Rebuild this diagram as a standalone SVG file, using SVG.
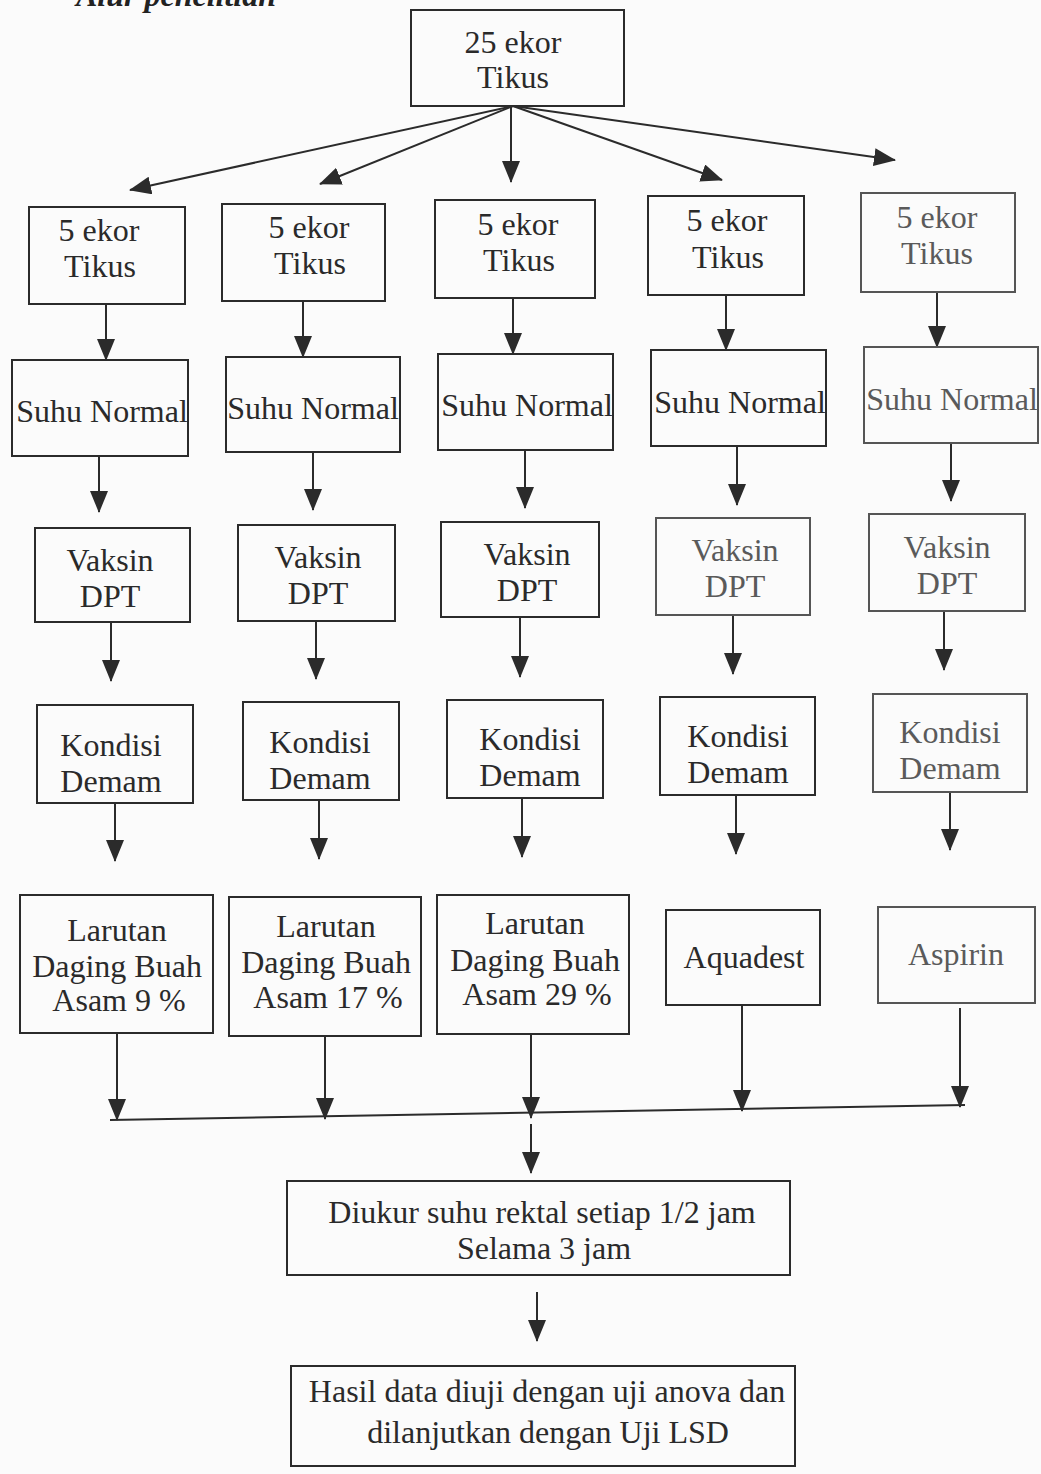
<svg xmlns="http://www.w3.org/2000/svg" width="1041" height="1474" viewBox="0 0 1041 1474">
<style>
.bg{fill:#fbfbfb}
.box{fill:none;stroke:#2b2b2b;stroke-width:2}
.box.light{stroke:#555}
.t{font-family:"Liberation Serif","Times New Roman",serif;font-size:32px;fill:#2a2a2a;text-anchor:middle}
.t.light{fill:#5a5a5a}
.hdr{font-family:"Liberation Serif","Times New Roman",serif;font-size:32px;font-weight:bold;font-style:italic;fill:#222}
.c line{stroke:#2b2b2b;stroke-width:2;fill:none}
</style>
<defs>
<marker id="ah" markerUnits="userSpaceOnUse" markerWidth="22" markerHeight="18" viewBox="0 0 22 18" refX="21" refY="9" orient="auto">
<path d="M0,0 L22,9 L0,18 z" fill="#2b2b2b"/>
</marker>
</defs>
<rect class="bg" x="0" y="0" width="1041" height="1474"/>
<text class="hdr" x="76" y="6">Alur penelitian</text>

<g id="connectors" class="c">
<line x1="513" y1="106" x2="130" y2="190" marker-end="url(#ah)"/>
<line x1="513" y1="106" x2="320" y2="184" marker-end="url(#ah)"/>
<line x1="511" y1="106" x2="511" y2="182" marker-end="url(#ah)"/>
<line x1="513" y1="106" x2="722" y2="180" marker-end="url(#ah)"/>
<line x1="513" y1="106" x2="895" y2="160" marker-end="url(#ah)"/>

<line x1="106" y1="304" x2="106" y2="360" marker-end="url(#ah)"/>
<line x1="303" y1="301" x2="303" y2="357" marker-end="url(#ah)"/>
<line x1="513" y1="298" x2="513" y2="354" marker-end="url(#ah)"/>
<line x1="726" y1="295" x2="726" y2="350" marker-end="url(#ah)"/>
<line x1="937" y1="292" x2="937" y2="347" marker-end="url(#ah)"/>

<line x1="99" y1="456" x2="99" y2="512" marker-end="url(#ah)"/>
<line x1="313" y1="452" x2="313" y2="510" marker-end="url(#ah)"/>
<line x1="525" y1="450" x2="525" y2="508" marker-end="url(#ah)"/>
<line x1="737" y1="446" x2="737" y2="505" marker-end="url(#ah)"/>
<line x1="951" y1="443" x2="951" y2="501" marker-end="url(#ah)"/>

<line x1="111" y1="622" x2="111" y2="681" marker-end="url(#ah)"/>
<line x1="316" y1="621" x2="316" y2="679" marker-end="url(#ah)"/>
<line x1="520" y1="617" x2="520" y2="677" marker-end="url(#ah)"/>
<line x1="733" y1="615" x2="733" y2="674" marker-end="url(#ah)"/>
<line x1="944" y1="611" x2="944" y2="670" marker-end="url(#ah)"/>

<line x1="115" y1="803" x2="115" y2="861" marker-end="url(#ah)"/>
<line x1="319" y1="800" x2="319" y2="859" marker-end="url(#ah)"/>
<line x1="522" y1="798" x2="522" y2="857" marker-end="url(#ah)"/>
<line x1="736" y1="795" x2="736" y2="854" marker-end="url(#ah)"/>
<line x1="950" y1="792" x2="950" y2="850" marker-end="url(#ah)"/>

<line x1="117" y1="1033" x2="117" y2="1120" marker-end="url(#ah)"/>
<line x1="325" y1="1036" x2="325" y2="1119" marker-end="url(#ah)"/>
<line x1="531" y1="1034" x2="531" y2="1118" marker-end="url(#ah)"/>
<line x1="742" y1="1005" x2="742" y2="1111" marker-end="url(#ah)"/>
<line x1="960" y1="1008" x2="960" y2="1107" marker-end="url(#ah)"/>
<line x1="110" y1="1120" x2="965" y2="1105"/>

<line x1="531" y1="1124" x2="531" y2="1173" marker-end="url(#ah)"/>
<line x1="537" y1="1292" x2="537" y2="1341" marker-end="url(#ah)"/>
</g>

<g id="n-top">
<rect class="box" x="411" y="10" width="213" height="96"/>
<text class="t" x="513" y="53">25 ekor</text>
<text class="t" x="513" y="88">Tikus</text>
</g>

<g id="n-tikus1"><rect class="box" x="29" y="207" width="156" height="97"/>
<text class="t" x="99" y="241">5 ekor</text><text class="t" x="100" y="277">Tikus</text></g>
<g id="n-tikus2"><rect class="box" x="222" y="204" width="163" height="97"/>
<text class="t" x="309" y="238">5 ekor</text><text class="t" x="310" y="274">Tikus</text></g>
<g id="n-tikus3"><rect class="box" x="435" y="200" width="160" height="98"/>
<text class="t" x="518" y="235">5 ekor</text><text class="t" x="519" y="271">Tikus</text></g>
<g id="n-tikus4"><rect class="box" x="648" y="196" width="156" height="99"/>
<text class="t" x="727" y="231">5 ekor</text><text class="t" x="728" y="268">Tikus</text></g>
<g id="n-tikus5"><rect class="box light" x="861" y="193" width="154" height="99"/>
<text class="t light" x="937" y="228">5 ekor</text><text class="t light" x="937" y="264">Tikus</text></g>

<g id="n-suhu1"><rect class="box" x="12" y="360" width="176" height="96"/>
<text class="t" x="102" y="422">Suhu Normal</text></g>
<g id="n-suhu2"><rect class="box" x="226" y="357" width="174" height="95"/>
<text class="t" x="313" y="419">Suhu Normal</text></g>
<g id="n-suhu3"><rect class="box" x="438" y="354" width="175" height="96"/>
<text class="t" x="527" y="416">Suhu Normal</text></g>
<g id="n-suhu4"><rect class="box" x="651" y="350" width="175" height="96"/>
<text class="t" x="740" y="413">Suhu Normal</text></g>
<g id="n-suhu5"><rect class="box light" x="864" y="347" width="174" height="96"/>
<text class="t light" x="952" y="410">Suhu Normal</text></g>

<g id="n-vaksin1"><rect class="box" x="35" y="528" width="155" height="94"/>
<text class="t" x="110" y="571">Vaksin</text><text class="t" x="110" y="607">DPT</text></g>
<g id="n-vaksin2"><rect class="box" x="238" y="525" width="157" height="96"/>
<text class="t" x="318" y="568">Vaksin</text><text class="t" x="318" y="604">DPT</text></g>
<g id="n-vaksin3"><rect class="box" x="441" y="522" width="158" height="95"/>
<text class="t" x="527" y="565">Vaksin</text><text class="t" x="527" y="601">DPT</text></g>
<g id="n-vaksin4"><rect class="box light" x="656" y="518" width="154" height="97"/>
<text class="t light" x="735" y="561">Vaksin</text><text class="t light" x="735" y="597">DPT</text></g>
<g id="n-vaksin5"><rect class="box light" x="869" y="514" width="156" height="97"/>
<text class="t light" x="947" y="558">Vaksin</text><text class="t light" x="947" y="594">DPT</text></g>

<g id="n-demam1"><rect class="box" x="37" y="705" width="156" height="98"/>
<text class="t" x="111" y="756">Kondisi</text><text class="t" x="111" y="792">Demam</text></g>
<g id="n-demam2"><rect class="box" x="243" y="702" width="156" height="98"/>
<text class="t" x="320" y="753">Kondisi</text><text class="t" x="320" y="789">Demam</text></g>
<g id="n-demam3"><rect class="box" x="447" y="700" width="156" height="98"/>
<text class="t" x="530" y="750">Kondisi</text><text class="t" x="530" y="786">Demam</text></g>
<g id="n-demam4"><rect class="box" x="660" y="697" width="155" height="98"/>
<text class="t" x="738" y="747">Kondisi</text><text class="t" x="738" y="783">Demam</text></g>
<g id="n-demam5"><rect class="box light" x="873" y="694" width="154" height="98"/>
<text class="t light" x="950" y="743">Kondisi</text><text class="t light" x="950" y="779">Demam</text></g>

<g id="n-larutan9"><rect class="box" x="20" y="895" width="193" height="138"/>
<text class="t" x="117" y="941">Larutan</text><text class="t" x="117" y="977">Daging Buah</text><text class="t" x="119" y="1011">Asam 9 %</text></g>
<g id="n-larutan17"><rect class="box" x="229" y="897" width="192" height="139"/>
<text class="t" x="326" y="937">Larutan</text><text class="t" x="326" y="973">Daging Buah</text><text class="t" x="328" y="1008">Asam 17 %</text></g>
<g id="n-larutan29"><rect class="box" x="437" y="895" width="192" height="139"/>
<text class="t" x="535" y="934">Larutan</text><text class="t" x="535" y="971">Daging Buah</text><text class="t" x="537" y="1005">Asam 29 %</text></g>
<g id="n-aquadest"><rect class="box" x="666" y="910" width="154" height="95"/>
<text class="t" x="744" y="968">Aquadest</text></g>
<g id="n-aspirin"><rect class="box light" x="878" y="907" width="157" height="96"/>
<text class="t light" x="956" y="965">Aspirin</text></g>

<g id="n-diukur"><rect class="box" x="287" y="1181" width="503" height="94"/>
<text class="t" x="542" y="1223">Diukur suhu rektal setiap 1/2 jam</text>
<text class="t" x="544" y="1259">Selama 3 jam</text></g>

<g id="n-hasil"><rect class="box" x="291" y="1366" width="504" height="100"/>
<text class="t" x="547" y="1402">Hasil data diuji dengan uji anova dan</text>
<text class="t" x="548" y="1443">dilanjutkan dengan Uji LSD</text></g>
</svg>
